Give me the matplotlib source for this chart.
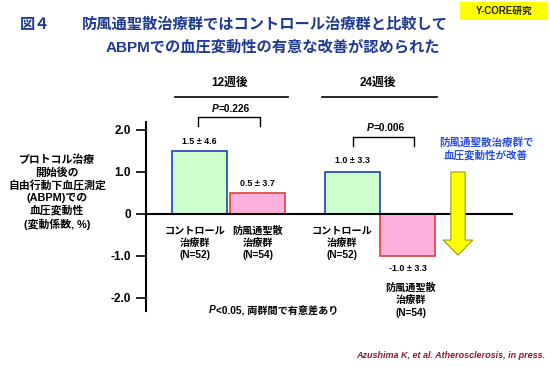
import matplotlib.pyplot as plt
from matplotlib.patches import Polygon, Rectangle

plt.rcParams['font.family'] = ['Liberation Sans', 'Noto Sans CJK JP']
plt.rcParams['font.weight'] = 'bold'

# data
groups = ["コントロール\n治療群\n(N=52)", "防風通聖散\n治療群\n(N=54)",
          "コントロール\n治療群\n(N=52)", "防風通聖散\n治療群\n(N=54)"]
means = [1.5, 0.5, 1.0, -1.0]
sds = [4.6, 3.7, 3.3, 3.3]
p_values = ["=0.226", "=0.006"]
periods = ["12週後", "24週後"]
yticks = [2.0, 1.0, 0, -1.0, -2.0]
ytick_labels = ["2.0", "1.0", "0", "-1.0", "-2.0"]

pos = [0.97, 2.03, 3.76, 4.76]
fills = ["#ccffcc", "#ffb0dd", "#ccffcc", "#ffb0dd"]
edges = ["#1f3fbf", "#e0403a", "#1f3fbf", "#e0403a"]
navy = "#1f3a93"

fig = plt.figure(figsize=(5.5, 3.66), dpi=100)
ax = fig.add_axes([146 / 550, 1 - 310.6 / 366, 367 / 550, 189 / 366])
ax.set_xlim(0, 6.67)
ax.set_ylim(-2.3, 2.2)

ax.bar(pos, means, width=1.0, color=fills, edgecolor=edges, linewidth=1.2, zorder=2)
ax.axhline(0, color="black", lw=1.5, zorder=3)

for s in ["top", "right", "bottom"]:
    ax.spines[s].set_visible(False)
ax.spines["left"].set_linewidth(1.5)
ax.set_xticks([])
ax.set_yticks(yticks)
ax.set_yticklabels(ytick_labels, fontsize=8.5, fontweight="bold")
ax.tick_params(axis="y", direction="out", length=7, width=1.2, pad=4)

# value labels and group names
label_dx = [-0.08, 0.0, -0.2, 0.05]
for i, (m, s) in enumerate(zip(means, sds)):
    txt = f"{m:.1f} \u00b1 {s:.1f}"
    if m >= 0:
        ax.text(pos[i], m + 0.22 + (0.05 if i == 2 else 0), txt, ha="center", va="center", fontsize=6.4)
        ax.text(pos[i] + label_dx[i], -0.27, groups[i], ha="center", va="top",
                fontsize=7.3, linespacing=1.3)
    else:
        ax.text(pos[i], m - 0.3, txt, ha="center", va="center", fontsize=6.4)
        ax.text(pos[i] + label_dx[i], m - 0.64, groups[i], ha="center", va="top",
                fontsize=7.3, linespacing=1.3)

# downward arrow
ax_x, hw, sw = 5.67, 0.27, 0.13
arrow = Polygon([(ax_x - sw, 1.0), (ax_x + sw, 1.0), (ax_x + sw, -0.62), (ax_x + hw, -0.62),
                 (ax_x, -0.98), (ax_x - hw, -0.62), (ax_x - sw, -0.62)],
                closed=True, facecolor="#ffff00", edgecolor="#9a9a20", lw=0.8, zorder=4)
ax.add_patch(arrow)

# overlay in pixel coordinates for annotations
ov = fig.add_axes([0, 0, 1, 1])
ov.set_xlim(0, 550)
ov.set_ylim(366, 0)
ov.axis("off")


def p_text(x, y, rest, size):
    # italic P followed by upright text, joined at x
    ov.text(x, y, "P", ha="right", va="center", fontsize=size, style="italic")
    ov.text(x, y, rest, ha="left", va="center", fontsize=size)


ov.text(35, 25, "図４", ha="center", va="center", fontsize=11, color=navy)
ov.text(265, 25, "防風通聖散治療群ではコントロール治療群と比較して", ha="center", va="center",
        fontsize=11, color=navy)
ov.text(273, 47, "ABPMでの血圧変動性の有意な改善が認められた", ha="center", va="center",
        fontsize=11, color=navy)
ov.add_patch(Rectangle((460, 2), 88, 18, facecolor="#ffff00", edgecolor="none"))
ov.text(504, 11, "Y-CORE研究", ha="center", va="center", fontsize=7, color="#222222")

# period headers
for label, cx, x0, x1 in zip(periods, [230, 378], [175, 322], [288, 437]):
    ov.text(cx, 83, label, ha="center", va="center", fontsize=8.5)
    ov.plot([x0, x1], [97, 97], color="black", lw=1.2)

# significance brackets
for p, cx, x0, x1, ytop, ytxt in zip(p_values, [219, 374], [198, 353], [260, 414],
                                     [117, 137], [109, 128]):
    ov.plot([x0, x0, x1, x1], [ytop + 9, ytop, ytop, ytop + 9], color="black", lw=1.0)
    p_text(cx, ytxt, p, 7.3)

ov.text(57, 192, "プロトコル治療\n開始後の\n自由行動下血圧測定\n(ABPM)での\n血圧変動性\n(変動係数, %)",
        ha="center", va="center", fontsize=7.8, linespacing=1.25)
ov.text(486, 149, "防風通聖散治療群で\n血圧変動性が改善", ha="center", va="center",
        fontsize=7.6, color="#2a4fe0", linespacing=1.25)
p_text(216, 310, "<0.05, 両群間で有意差あり", 7.3)
ov.text(545, 356, "Azushima K, et al. Atherosclerosis, in press.", ha="right", va="center",
        fontsize=6.5, style="italic", color="#8b1a2b")

fig.savefig("out.png", dpi=100)
